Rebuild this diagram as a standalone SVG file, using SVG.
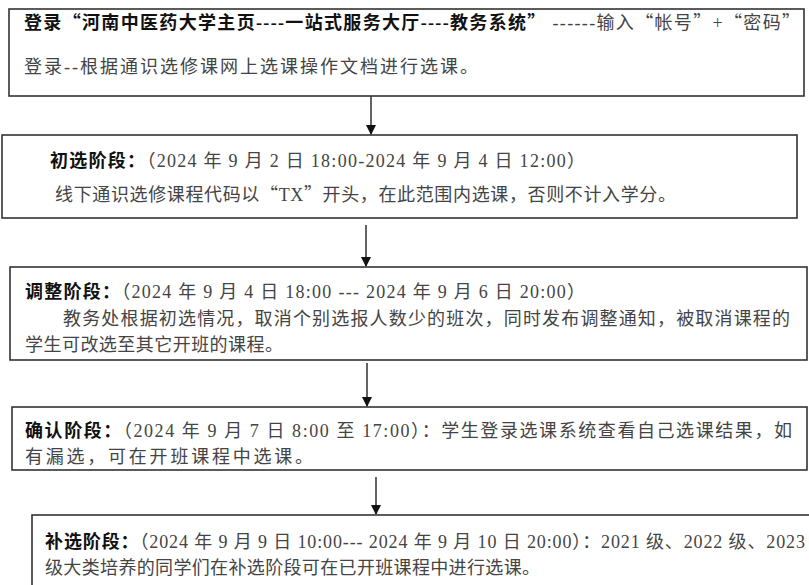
<svg xmlns="http://www.w3.org/2000/svg" width="809" height="585" viewBox="0 0 809 585">
<style>
.box{fill:#fff;stroke:#333;stroke-width:1.6}
.t{font-family:"Liberation Serif","Noto Sans CJK SC",serif;font-size:18px;fill:#444}
.b{font-weight:bold;fill:#111}
.q{font-family:"Noto Sans CJK SC","Noto Sans CJK JP",sans-serif}
.c{stroke:#222;stroke-width:1.4;fill:none}
</style>
<defs>
<marker id="ah" markerWidth="10" markerHeight="10" refX="9" refY="5" orient="auto" markerUnits="userSpaceOnUse">
<path d="M0,0 L10,5 L0,10 Z" fill="#111"/>
</marker>
</defs>
<rect width="809" height="585" fill="#fff"/>
<g id="connectors">
<line class="c" x1="371" y1="96" x2="371" y2="134" marker-end="url(#ah)"/>
<line class="c" x1="366" y1="225" x2="366" y2="266" marker-end="url(#ah)"/>
<line class="c" x1="367" y1="363" x2="367" y2="406" marker-end="url(#ah)"/>
<line class="c" x1="376" y1="477" x2="376" y2="514" marker-end="url(#ah)"/>
</g>
<g id="node1">
<rect class="box" x="9" y="9" width="795" height="87"/>
<text class="t" x="24" y="29" textLength="776" lengthAdjust="spacing"><tspan class="b">登录<tspan class="q">“</tspan>河南中医药大学主页----一站式服务大厅----教务系统<tspan class="q">”</tspan></tspan> ------输入<tspan class="q">“</tspan>帐号<tspan class="q">”</tspan>+<tspan class="q">“</tspan>密码<tspan class="q">”</tspan></text>
<text class="t" x="24" y="73" textLength="454" lengthAdjust="spacing">登录--根据通识选修课网上选课操作文档进行选课。</text>
</g>
<g id="node2">
<rect class="box" x="2" y="135" width="795" height="83"/>
<text class="t" x="50" y="167" textLength="535" lengthAdjust="spacing"><tspan class="b">初选阶段：</tspan>（2024 年 9 月 2 日 18:00-2024 年 9 月 4 日 12:00）</text>
<text class="t" x="55" y="201" textLength="621" lengthAdjust="spacing">线下通识选修课程代码以<tspan class="q">“</tspan>TX<tspan class="q">”</tspan>开头，在此范围内选课，否则不计入学分。</text>
</g>
<g id="node3">
<rect class="box" x="10" y="267" width="797" height="93"/>
<text class="t" x="25" y="298" textLength="560" lengthAdjust="spacing"><tspan class="b">调整阶段：</tspan>（2024 年 9 月 4 日 18:00 --- 2024 年 9 月 6 日 20:00）</text>
<text class="t" x="63" y="325" textLength="727" lengthAdjust="spacing">教务处根据初选情况，取消个别选报人数少的班次，同时发布调整通知，被取消课程的</text>
<text class="t" x="25" y="351" textLength="258" lengthAdjust="spacing">学生可改选至其它开班的课程。</text>
</g>
<g id="node4">
<rect class="box" x="12" y="407" width="795" height="63"/>
<text class="t" x="25" y="437" textLength="767" lengthAdjust="spacing"><tspan class="b">确认阶段：</tspan>（2024 年 9 月 7 日 8:00 至 17:00）：学生登录选课系统查看自己选课结果，如</text>
<text class="t" x="25" y="463" textLength="288" lengthAdjust="spacing">有漏选，可在开班课程中选课。</text>
</g>
<g id="node5">
<rect class="box" x="32" y="515" width="790" height="80"/>
<text class="t" x="45" y="548" textLength="760" lengthAdjust="spacing"><tspan class="b">补选阶段：</tspan>（2024 年 9 月 9 日 10:00--- 2024 年 9 月 10 日 20:00）：2021 级、2022 级、2023</text>
<text class="t" x="45" y="574" textLength="495" lengthAdjust="spacing">级大类培养的同学们在补选阶段可在已开班课程中进行选课。</text>
</g>
</svg>
